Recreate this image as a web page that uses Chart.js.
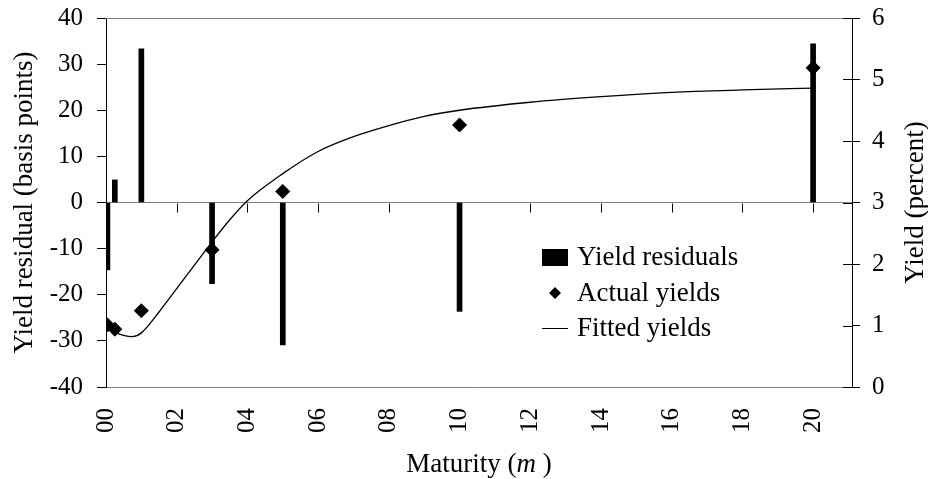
<!DOCTYPE html>
<html>
<head>
<meta charset="utf-8">
<script src="https://cdn.jsdelivr.net/npm/chart.js@4.4.1/dist/chart.umd.min.js"></script>
<style>
  body { margin: 0; background: #fff; }
  #wrap { width: 928px; height: 479px; }
</style>
</head>
<body>
<div id="wrap"><canvas id="yieldChart" width="928" height="479"></canvas></div>
<script>
// maturities (years) of the observed securities
const maturities = [0.04, 0.25, 1, 3, 5, 10, 20];
// residuals in basis points (left axis)
const residuals = [-14.6, 4.9, 33.3, -17.6, -30.9, -23.6, 34.4];
// observed yields in percent (right axis)
const actualYields = [1.01, 0.94, 1.24, 2.23, 3.18, 4.26, 5.19];
// fitted curve
const fittedMaturities = [0, 0.25, 0.5, 0.75, 1, 1.5, 2, 2.5, 3, 3.5, 4, 5, 6, 7, 8, 9, 10, 12, 14, 16, 18, 20];
const fittedYields = [1.06, 0.90, 0.84, 0.82, 0.88, 1.22, 1.60, 1.98, 2.36, 2.72, 3.03, 3.47, 3.83, 4.07, 4.25, 4.40, 4.50, 4.63, 4.72, 4.79, 4.83, 4.86];

const FONT = "'Liberation Serif', 'Times New Roman', serif";
const TITLE_SIZE = 27;
Chart.defaults.font.family = FONT;
Chart.defaults.font.size = 25;
Chart.defaults.color = '#000';

const toPoints = (xs, ys) => xs.map((x, i) => ({x: x, y: ys[i]}));

// fixed axis box sizes so the plot area lands where the original one is
const fixWidth = w => s => { s.width = w; s.paddingTop = 0; s.paddingBottom = 0; };

// axis decorations, titles and legend that Chart.js can't do the Excel way
const decorations = {
    id: 'decorations',
    afterDraw(chart) {
        const {ctx, chartArea: a, scales} = chart;
        ctx.save();
        ctx.lineWidth = 1;

        // top border of the plot
        ctx.strokeStyle = '#808080';
        ctx.beginPath();
        ctx.moveTo(a.left, a.top + 0.5);
        ctx.lineTo(a.right, a.top + 0.5);
        ctx.stroke();

        // x tick marks hang below the zero line
        const y0 = Math.round(scales.y.getPixelForValue(0)) + 0.5;
        ctx.strokeStyle = '#000';
        scales.x.ticks.forEach(t => {
            const px = Math.round(scales.x.getPixelForValue(t.value)) + 0.5;
            ctx.beginPath();
            ctx.moveTo(px, y0);
            ctx.lineTo(px, y0 + 9);
            ctx.stroke();
        });

        // right axis ticks cross the axis
        scales.y1.ticks.forEach(t => {
            const py = Math.round(scales.y1.getPixelForValue(t.value)) + 0.5;
            ctx.beginPath();
            ctx.moveTo(a.right - 9, py);
            ctx.lineTo(a.right, py);
            ctx.stroke();
        });

        ctx.fillStyle = '#000';
        const f = (style) => style + TITLE_SIZE + 'px ' + FONT;

        // right axis title, reading upwards
        ctx.save();
        ctx.font = f('');
        ctx.translate(916, (a.top + a.bottom) / 2);
        ctx.rotate(-Math.PI / 2);
        ctx.textAlign = 'center';
        ctx.textBaseline = 'middle';
        ctx.fillText('Yield (percent)', 0, 0);
        ctx.restore();

        // x axis title with italic m
        const parts = [['Maturity (', ''], ['m', 'italic '], [' )', '']];
        let total = 0;
        parts.forEach(p => { ctx.font = f(p[1]); total += ctx.measureText(p[0]).width; });
        let tx = (a.left + a.right) / 2 - total / 2;
        ctx.textBaseline = 'middle';
        ctx.textAlign = 'left';
        parts.forEach(p => {
            ctx.font = f(p[1]);
            ctx.fillText(p[0], tx, 465);
            tx += ctx.measureText(p[0]).width;
        });

        // legend
        const lx = 542, lw = 26, textX = 577;
        const rows = [257, 293, 328];
        ctx.font = f('');
        ctx.fillRect(lx, rows[0] - 8, lw, 17);
        ctx.beginPath();
        ctx.moveTo(lx + lw / 2, rows[1] - 6);
        ctx.lineTo(lx + lw / 2 + 6, rows[1]);
        ctx.lineTo(lx + lw / 2, rows[1] + 6);
        ctx.lineTo(lx + lw / 2 - 6, rows[1]);
        ctx.closePath();
        ctx.fill();
        ctx.beginPath();
        ctx.moveTo(lx, rows[2] + 0.5);
        ctx.lineTo(lx + lw, rows[2] + 0.5);
        ctx.stroke();
        chart.data.datasets.forEach((ds, i) => {
            ctx.fillText(ds.label, textX, rows[i] + 1);
        });

        ctx.restore();
    }
};

new Chart('yieldChart', {
    type: 'bar',
    data: {
        datasets: [
            {
                type: 'bar',
                label: 'Yield residuals',
                data: toPoints(maturities, residuals),
                yAxisID: 'y',
                backgroundColor: '#000',
                barThickness: 5,
                order: 2
            },
            {
                type: 'line',
                label: 'Actual yields',
                data: toPoints(maturities, actualYields),
                yAxisID: 'y1',
                showLine: false,
                pointStyle: 'rectRot',
                pointRadius: 7,
                backgroundColor: '#000',
                borderColor: '#000',
                order: 0
            },
            {
                type: 'line',
                label: 'Fitted yields',
                data: toPoints(fittedMaturities, fittedYields),
                yAxisID: 'y1',
                borderColor: '#000',
                borderWidth: 1.3,
                pointRadius: 0,
                cubicInterpolationMode: 'monotone',
                order: 1
            }
        ]
    },
    options: {
        responsive: false,
        animation: false,
        layout: { padding: { top: 18, left: 0, right: 0, bottom: 0 } },
        plugins: {
            legend: { display: false },
            tooltip: { enabled: false }
        },
        scales: {
            x: {
                type: 'linear',
                min: 0,
                max: 21.1,
                offset: false,
                grid: { drawOnChartArea: false, drawTicks: false, offset: false },
                border: { color: '#808080', width: 1 },
                ticks: {
                    stepSize: 2,
                    includeBounds: false,
                    minRotation: 90,
                    maxRotation: 90,
                    padding: 21,
                    callback: v => String(v).padStart(2, '0')
                },
                afterFit: s => { s.height = 92; }
            },
            y: {
                position: 'left',
                min: -40,
                max: 40,
                grid: {
                    color: c => (c.tick && c.tick.value === 0) ? '#808080' : 'rgba(0,0,0,0)',
                    tickColor: '#000',
                    tickLength: 9
                },
                border: { color: '#000', width: 1 },
                ticks: { stepSize: 10, padding: 14 },
                title: {
                    display: true,
                    text: 'Yield residual (basis points)',
                    font: { size: TITLE_SIZE },
                    padding: { top: 9, bottom: 0 }
                },
                afterFit: fixWidth(106)
            },
            y1: {
                position: 'right',
                min: 0,
                max: 6,
                grid: { drawOnChartArea: false, tickColor: '#000', tickLength: 8 },
                border: { color: '#000', width: 1 },
                ticks: { stepSize: 1, padding: 12 },
                afterFit: fixWidth(76)
            }
        }
    },
    plugins: [decorations]
});
</script>
</body>
</html>
